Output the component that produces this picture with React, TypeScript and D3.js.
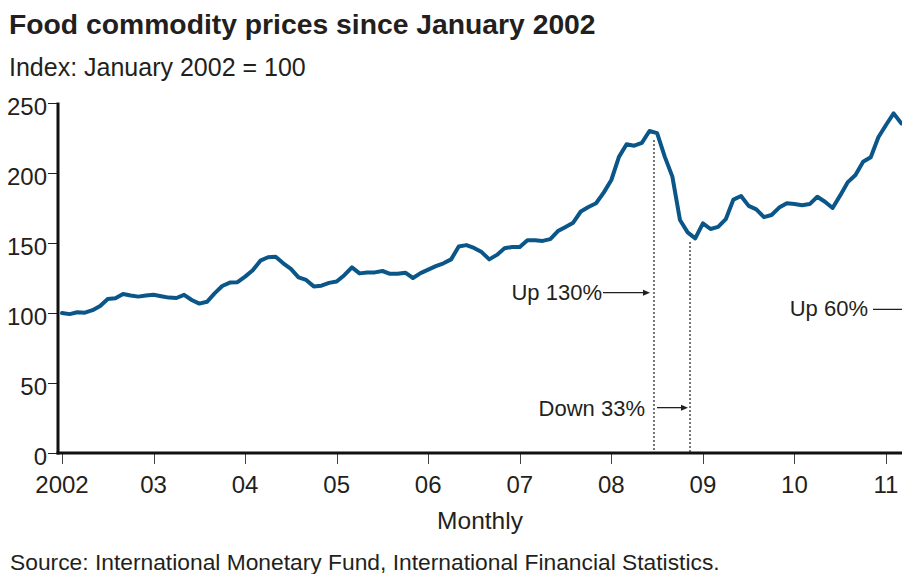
import React from "react";
import * as d3 from "d3";

// Monthly index values, Jan 2002 .. Mar 2011 (Jan 2002 = 100)
const values: number[] = [
  100, 99.2, 100.5, 100.2, 102, 105, 110, 110.5, 113.6, 112.5, 111.7,
  112.5, 113, 112, 111, 110.7, 113, 109.3, 106.7, 108, 114, 119.3,
  121.7, 122, 126, 130.5, 137.4, 139.8, 140.2, 135.5, 131.5, 125.5, 123.6,
  119, 119.5, 121.5, 122.5, 127, 132.6, 128.3, 129, 129, 130, 128,
  128, 128.8, 125, 128.5, 131, 133.5, 135.5, 138.3, 147.5, 148.5, 146.5,
  143.5, 138.3, 141.5, 146.2, 147.2, 147.2, 152, 152, 151.5, 152.8, 158.5,
  161.5, 164.5, 172.5, 175.7, 178.4, 186, 195, 211.5, 220.5, 219.5, 221.5,
  230, 228.5, 211.7, 197.4, 166.4, 157.6, 153.3, 164, 160, 161.5, 167,
  181, 183.6, 176.5, 174, 168.5, 170, 175.3, 178.4, 177.9, 177, 177.8,
  183, 179.5, 175, 184, 193.5, 198.6, 208, 211.2, 225.5, 234.3, 242.6, 235.5,
];

const xTickLabels = ["2002", "03", "04", "05", "06", "07", "08", "09", "10", "11"];
const yTicks = [0, 50, 100, 150, 200, 250];

const title = "Food commodity prices since January 2002";
const subtitle = "Index: January 2002 = 100";
const xAxisTitle = "Monthly";
const source = "Source: International Monetary Fund, International Financial Statistics.";

// Annotation reference months (index from Jan 2002) and values
const markerMonths = [77.6, 82.3];
const markerTopValues = [223.6, 150.7];
const arrowLabels = ["Up 130%", "Down 33%", "Up 60%"];
const arrowValues = [114.5, 32.4, 102.6];

const W = 902;
const H = 574;
const FONT = "'Liberation Sans', Arial, Helvetica, sans-serif";
const TEXT = "#231f20";
const LINE = "#0b5689";

export default function App() {
  const x = d3.scaleLinear().domain([0, 108]).range([62, 886]);
  const y = d3.scaleLinear().domain([0, 250]).range([453, 103]);
  const axisLeft = 58;

  const line = d3
    .line<number>()
    .x((_, i) => x(i))
    .y((d) => y(d));

  const xTicks = xTickLabels.map((lab, i) => ({ lab, m: i * 12 }));

  const m1 = Math.round(x(markerMonths[0]));
  const m2 = Math.round(x(markerMonths[1]));
  const a1y = y(arrowValues[0]);
  const a2y = y(arrowValues[1]);
  const a3y = y(arrowValues[2]);

  const arrowHead = (tipX: number, yy: number) =>
    `M${tipX},${yy} L${tipX - 7},${yy - 3} L${tipX - 7},${yy + 3} Z`;

  return (
    <svg
      width={W}
      height={H}
      style={{ position: "absolute", left: 0, top: 0, background: "#fff" }}
      fontFamily={FONT}
    >
      <rect x={0} y={0} width={W} height={H} fill="#fff" />
      <text x={9} y={34} fontSize={28.3} fontWeight="bold" fill={TEXT}>
        {title}
      </text>
      <text x={9} y={76} fontSize={25} fill={TEXT}>
        {subtitle}
      </text>

      {/* y ticks */}
      {yTicks.map((t) => (
        <g key={t}>
          <line x1={axisLeft - 10} x2={axisLeft} y1={Math.round(y(t)) + 0.5} y2={Math.round(y(t)) + 0.5} stroke={TEXT} strokeWidth={1} />
          <text x={47} y={y(t) + 11.5} fontSize={24} textAnchor="end" fill={TEXT}>
            {t}
          </text>
        </g>
      ))}

      {/* x ticks */}
      {xTicks.map((t) => (
        <g key={t.lab}>
          <line x1={Math.round(x(t.m)) + 0.5} x2={Math.round(x(t.m)) + 0.5} y1={453} y2={464} stroke="#444" strokeWidth={1} />
          <text x={x(t.m)} y={492.5} fontSize={24} textAnchor="middle" fill={TEXT}>
            {t.lab}
          </text>
        </g>
      ))}

      {/* dashed markers */}
      <line x1={m1} x2={m1} y1={y(markerTopValues[0])} y2={452} stroke="#777" strokeWidth={2} strokeDasharray="2,2" />
      <line x1={m2} x2={m2} y1={y(markerTopValues[1])} y2={452} stroke="#777" strokeWidth={2} strokeDasharray="2,2" />

      {/* axes */}
      <line x1={axisLeft} x2={axisLeft} y1={102.5} y2={454.5} stroke="#111" strokeWidth={3} />
      <line x1={axisLeft - 1.5} x2={W + 5} y1={453} y2={453} stroke="#111" strokeWidth={3} />

      {/* data line */}
      <path d={line(values) || ""} fill="none" stroke={LINE} strokeWidth={4} strokeLinejoin="round" strokeLinecap="round" />

      {/* annotations */}
      <text x={602} y={a1y + 7} fontSize={22} textAnchor="end" fill={TEXT}>
        {arrowLabels[0]}
      </text>
      <line x1={603} x2={m1 - 9} y1={a1y} y2={a1y} stroke={TEXT} strokeWidth={1.3} />
      <path d={arrowHead(m1 - 4, a1y)} fill={TEXT} />

      <text x={645} y={a2y + 8} fontSize={22} textAnchor="end" fill={TEXT}>
        {arrowLabels[1]}
      </text>
      <line x1={m1 + 3} x2={m2 - 7} y1={a2y} y2={a2y} stroke={TEXT} strokeWidth={1.3} />
      <path d={arrowHead(m2 - 2, a2y)} fill={TEXT} />

      <text x={868} y={a3y + 7} fontSize={22} textAnchor="end" fill={TEXT}>
        {arrowLabels[2]}
      </text>
      <line x1={873} x2={W + 5} y1={a3y} y2={a3y} stroke={TEXT} strokeWidth={1.3} />

      <text x={480} y={529} fontSize={24.5} textAnchor="middle" fill={TEXT}>
        {xAxisTitle}
      </text>
      <text x={10} y={570} fontSize={22.8} fill={TEXT}>
        {source}
      </text>
    </svg>
  );
}
